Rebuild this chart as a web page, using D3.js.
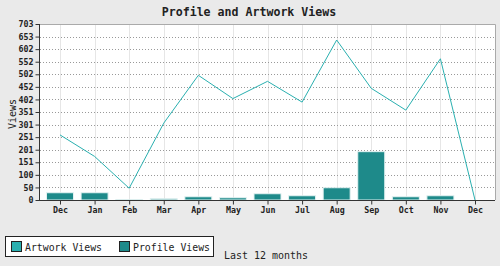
<!DOCTYPE html>
<html><head><meta charset="utf-8">
<script src="https://cdn.jsdelivr.net/npm/d3@7"></script>
<style>body{margin:0;background:#eaeaea;}svg{display:block;}</style>
</head><body>
<script>
const months = ["Dec","Jan","Feb","Mar","Apr","May","Jun","Jul","Aug","Sep","Oct","Nov","Dec"];
const artworkViews = [260, 174, 47, 307, 498, 405, 474, 391, 639, 446, 359, 564, 0];
const profileViews = [29, 29, 1, 5, 13, 9, 25, 17, 49, 193, 13, 17, 0];
const yTickLabels = [0,50,100,151,201,251,301,351,402,452,502,552,602,653,703];
const yMax = 702.9;

const W=500,H=266;
const L=39,R=495,T=24,B=200;
const svg=d3.select("body").append("svg").attr("width",W).attr("height",H);
svg.append("rect").attr("width",W).attr("height",H).attr("fill","#eaeaea");
const mono="'DejaVu Sans Mono', monospace";

const x=d3.scalePoint().domain(d3.range(months.length)).range([60,475]);
const y=d3.scaleLinear().domain([0,yMax]).range([B,T]);

svg.append("rect").attr("x",L).attr("y",T).attr("width",R-L).attr("height",B-T).attr("fill","#fff");

// vertical grid
svg.append("g").selectAll("line").data(d3.range(months.length)).join("line")
  .attr("x1",d=>Math.round(x(d))+0.5).attr("x2",d=>Math.round(x(d))+0.5)
  .attr("y1",T).attr("y2",B).attr("stroke","#e6e6e6");
// horizontal grid
const yTicks=yTickLabels.map((v,i)=>i*yMax/(yTickLabels.length-1));
svg.append("g").selectAll("line").data(yTicks.slice(1,-1)).join("line")
  .attr("x1",L+1).attr("x2",R).attr("y1",d=>Math.round(y(d))+0.5).attr("y2",d=>Math.round(y(d))+0.5)
  .attr("stroke","#999").attr("stroke-dasharray","1,2");

// border
svg.append("path").attr("d",`M${L},${T+0.5}H${R+0.5}V${B}`).attr("fill","none").attr("stroke","#aaa").attr("stroke-width",1);

// bars
const bw=27;
svg.append("g").selectAll("rect").data(profileViews).join("rect")
  .attr("x",(d,i)=>x(i)-bw/2).attr("width",bw)
  .attr("y",d=>y(d)).attr("height",d=>B-y(d))
  .attr("fill","#1e8a8a").attr("stroke","#e4f2f2").attr("stroke-width",1);

// line
svg.append("path").datum(artworkViews)
  .attr("d",d3.line().x((d,i)=>x(i)).y(d=>y(d)))
  .attr("fill","none").attr("stroke","#2ab0b0").attr("stroke-width",1);

// axes
const yAxis=d3.axisLeft(y).tickValues(yTicks).tickFormat((d,i)=>yTickLabels[i]).tickSize(4).tickPadding(2);
const gy=svg.append("g").attr("transform",`translate(${L+0.5},0)`).call(yAxis);
const xAxis=d3.axisBottom(x).tickFormat(i=>months[i]).tickSize(4).tickPadding(3);
const gx=svg.append("g").attr("transform",`translate(0,${B+0.5})`).call(xAxis);
gx.select(".domain").attr("d",`M${L},0H${R}`);
gy.select(".domain").attr("d",`M0,${T}V${B}`);
[gx,gy].forEach(g=>{
  g.selectAll(".domain,line").attr("stroke","#333");
  g.selectAll("text").attr("font-family",mono).attr("font-weight","bold").attr("font-size",8.3).attr("fill","#222");
});

// title
svg.append("text").attr("x",249).attr("y",16).attr("text-anchor","middle")
  .attr("font-family",mono).attr("font-weight","bold").attr("font-size",11.6).attr("fill","#222")
  .text("Profile and Artwork Views");
// y label
svg.append("text").attr("transform","translate(16,114) rotate(-90)").attr("text-anchor","middle")
  .attr("font-family",mono).attr("font-size",10).attr("fill","#222").text("Views");

// legend
svg.append("rect").attr("x",5.5).attr("y",236.5).attr("width",208).attr("height",20)
  .attr("fill","#fff").attr("stroke","#222");
const leg=[{n:"Artwork Views",c:"#2ab0b0",x:11},{n:"Profile Views",c:"#1e8a8a",x:119}];
leg.forEach(l=>{
  svg.append("rect").attr("x",l.x+0.5).attr("y",241.5).attr("width",10).attr("height",10)
    .attr("fill",l.c).attr("stroke","#222");
  svg.append("text").attr("x",l.x+14).attr("y",250.5).attr("font-family",mono)
    .attr("font-size",10.8).attr("textLength",77).attr("lengthAdjust","spacingAndGlyphs")
    .attr("fill","#222").text(l.n);
});
svg.append("text").attr("x",224).attr("y",259).attr("font-family",mono)
  .attr("font-size",10.8).attr("textLength",84).attr("lengthAdjust","spacingAndGlyphs")
  .attr("fill","#222").text("Last 12 months");
</script>
</body></html>
